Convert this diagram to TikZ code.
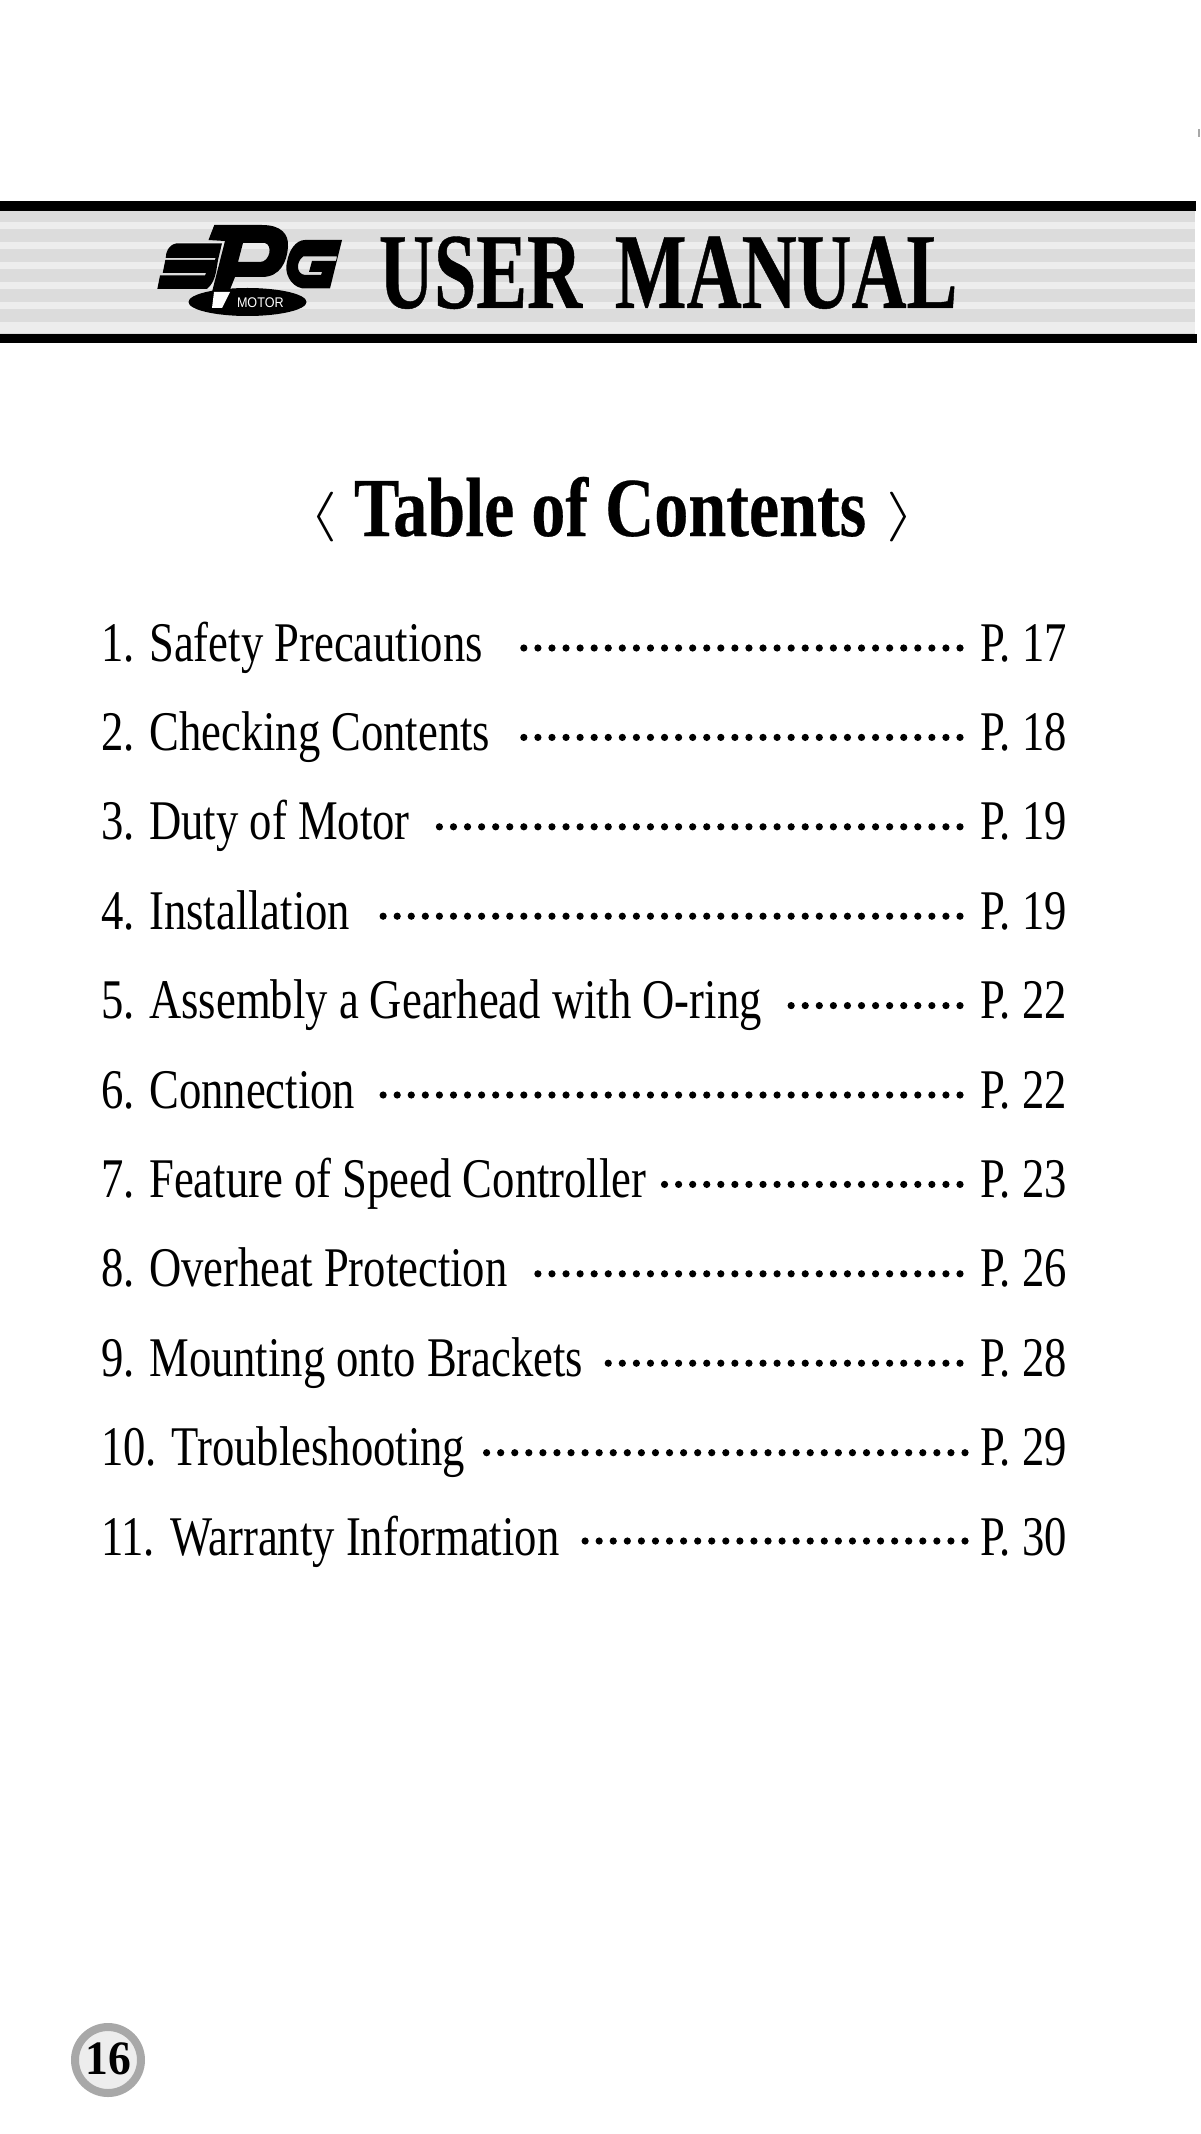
\documentclass[tikz,border=0pt]{standalone}
\usepackage{fontspec}
\usepackage{xcolor}
\newfontfamily\rowfont[FakeStretch=0.797]{Liberation Serif}
\newfontfamily\headfont[FakeStretch=0.811,BoldFeatures={FakeBold=0.3}]{Liberation Serif}
\newfontfamily\bannerfont[FakeStretch=0.705,BoldFeatures={FakeBold=0.4}]{Liberation Serif}
\newfontfamily\badgefont[FakeStretch=0.95]{Liberation Serif}
\newfontfamily\logofont[FakeStretch=0.9]{Liberation Sans}
\definecolor{banddark}{HTML}{DCDCDC}
\definecolor{bandlight}{HTML}{EDEDED}
\definecolor{badgering}{HTML}{A8A8A8}
\tikzset{every node/.style={inner sep=0pt,outer sep=0pt},
 rowtext/.style={anchor=base west,font=\rowfont\fontsize{28}{28}\selectfont},
 bracket/.style={anchor=base,font=\fontsize{36}{36}\selectfont},
 leader/.style={line width=3.6pt,line cap=round,dash pattern=on 0pt off 7.035pt},
 blackbar/.style={fill=black},
 }

\begin{document}
\begin{tikzpicture}[x=0.5pt,y=-0.5pt]
        \useasboundingbox (0,0) rectangle (1200,2134);
        % banner
        \fill[banddark] (0,211) rectangle (1195,334);
        \fill[bandlight] (0,222.3) rectangle (1195,229.3);
        \fill[bandlight] (0,242.3) rectangle (1195,249.3);
        \fill[bandlight] (0,262.3) rectangle (1195,269.3);
        \fill[bandlight] (0,282.3) rectangle (1195,289.3);
        \fill[bandlight] (0,302.3) rectangle (1195,309.3);
        \fill[bandlight] (0,322.3) rectangle (1195,333);
        \fill[blackbar] (0,201.5) rectangle (1196,211);
        \fill[blackbar] (0,334) rectangle (1197,343);
        \fill[badgering] (1198,129) rectangle (1200,137);
        % logo
        \fill (247.5,302) ellipse [x radius=59,y radius=14];
        \fill (176.7,243.3) -- (222,243.3) -- (218,260) .. controls (216,273) and (215,282) .. (207,289)
            -- (157.3,289) -- (160,275.5) -- (205,275.5) -- (206,273) -- (162.7,273) -- (165.3,260)
            -- (215,260) -- (215.5,258) -- (165.7,258) .. controls (166,252) and (168,245) .. cycle;
        \fill[even odd rule] (214.3,225) -- (262,225) .. controls (281,225) and (289,234) .. (288,247)
            .. controls (287,262) and (280,277) .. (262,277) -- (235,277) -- (229,292) -- (212,292)
            -- (225,241) -- (208.5,240) -- cycle
            (243,243) -- (265,243) .. controls (273,245) and (270,262) .. (260,262) -- (238,262) -- cycle;
        \fill[white] (214,292) -- (230,292) -- (222,308) -- (212,308) -- cycle;
        \fill[even odd rule] (305,240) -- (342,240) -- (330,288.3) -- (302,288.3)
            .. controls (290,286) and (284,272) .. (287,262) .. controls (289,250) and (296,240) .. cycle
            (303,256.5) -- (337,256.5) -- (336,261) -- (312,261) -- (309,272) -- (322,272) -- (321,275) -- (305,275)
            .. controls (296,274) and (296,262) .. cycle;
        \node[anchor=base west,text=white,font=\logofont\fontsize{7}{7}\selectfont] (logotext) at (237,308) {MOTOR};
        \node[anchor=base west,font=\bannerfont\bfseries\fontsize{54}{54}\selectfont] (banner) at (379,308) {USER\hspace{16.4pt}MANUAL};
        % heading
        \node[anchor=base west,font=\headfont\bfseries\fontsize{42}{42}\selectfont] (heading) at (354,536) {Table of Contents};
        \node[bracket] (langle) at (323.5,530) {\scalebox{1.45}[1]{$\langle$}};
        \node[bracket] (rangle) at (900.5,530) {\scalebox{1.45}[1]{$\rangle$}};
        % contents
        \node[rowtext] (t1) at (101,661) {1. Safety Precautions};
        \node[rowtext] (t2) at (101,750.4) {2. Checking Contents};
        \node[rowtext] (t3) at (101,839.8) {3. Duty of Motor};
        \node[rowtext] (t4) at (101,929.2) {4. Installation};
        \node[rowtext] (t5) at (101,1018.6) {5. Assembly a Gearhead with O-ring};
        \node[rowtext] (t6) at (101,1108) {6. Connection};
        \node[rowtext] (t7) at (101,1197.4) {7. Feature of Speed Controller};
        \node[rowtext] (t8) at (101,1286.8) {8. Overheat Protection};
        \node[rowtext] (t9) at (101,1376.2) {9. Mounting onto Brackets};
        \node[rowtext] (t10) at (101,1465.6) {10. Troubleshooting};
        \node[rowtext] (t11) at (101,1555) {11. Warranty Information};
        \node[rowtext] (p1) at (980,661) {P. 17};
        \node[rowtext] (p2) at (980,750.4) {P. 18};
        \node[rowtext] (p3) at (980,839.8) {P. 19};
        \node[rowtext] (p4) at (980,929.2) {P. 19};
        \node[rowtext] (p5) at (980,1018.6) {P. 22};
        \node[rowtext] (p6) at (980,1108) {P. 22};
        \node[rowtext] (p7) at (980,1197.4) {P. 23};
        \node[rowtext] (p8) at (980,1286.8) {P. 26};
        \node[rowtext] (p9) at (980,1376.2) {P. 28};
        \node[rowtext] (p10) at (980,1465.6) {P. 29};
        \node[rowtext] (p11) at (980,1555) {P. 30};
        \coordinate (a1) at (520,648);
        \coordinate (b1) at (960,648);
        \coordinate (a2) at (512,737.4);
        \coordinate (b2) at (960,737.4);
        \coordinate (a3) at (429,826.8);
        \coordinate (b3) at (960,826.8);
        \coordinate (a4) at (374,916.2);
        \coordinate (b4) at (960,916.2);
        \coordinate (a5) at (787,1005.6);
        \coordinate (b5) at (960,1005.6);
        \coordinate (a6) at (374,1095);
        \coordinate (b6) at (960,1095);
        \coordinate (a7) at (663,1184.4);
        \coordinate (b7) at (960,1184.4);
        \coordinate (a8) at (526,1273.8);
        \coordinate (b8) at (960,1273.8);
        \coordinate (a9) at (599,1363.2);
        \coordinate (b9) at (960,1363.2);
        \coordinate (a10) at (482,1452.7);
        \coordinate (b10) at (965,1452.7);
        \coordinate (a11) at (583,1541);
        \coordinate (b11) at (965,1541);
        \draw[leader] (b1) -- (a1);
        \draw[leader] (b2) -- (a2);
        \draw[leader] (b3) -- (a3);
        \draw[leader] (b4) -- (a4);
        \draw[leader] (b5) -- (a5);
        \draw[leader] (b6) -- (a6);
        \draw[leader] (b7) -- (a7);
        \draw[leader] (b8) -- (a8);
        \draw[leader] (b9) -- (a9);
        \draw[leader] (b10) -- (a10);
        \draw[leader] (b11) -- (a11);
        % page number
        \node[circle,draw=badgering,line width=4pt,fill=bandlight,minimum size=66pt*0.5] (badge) at (108,2060) {};
        \node[anchor=base,font=\badgefont\bfseries\fontsize{24}{24}\selectfont] (pageno) at (108,2074) {16};
    \end{tikzpicture}
\end{document}
